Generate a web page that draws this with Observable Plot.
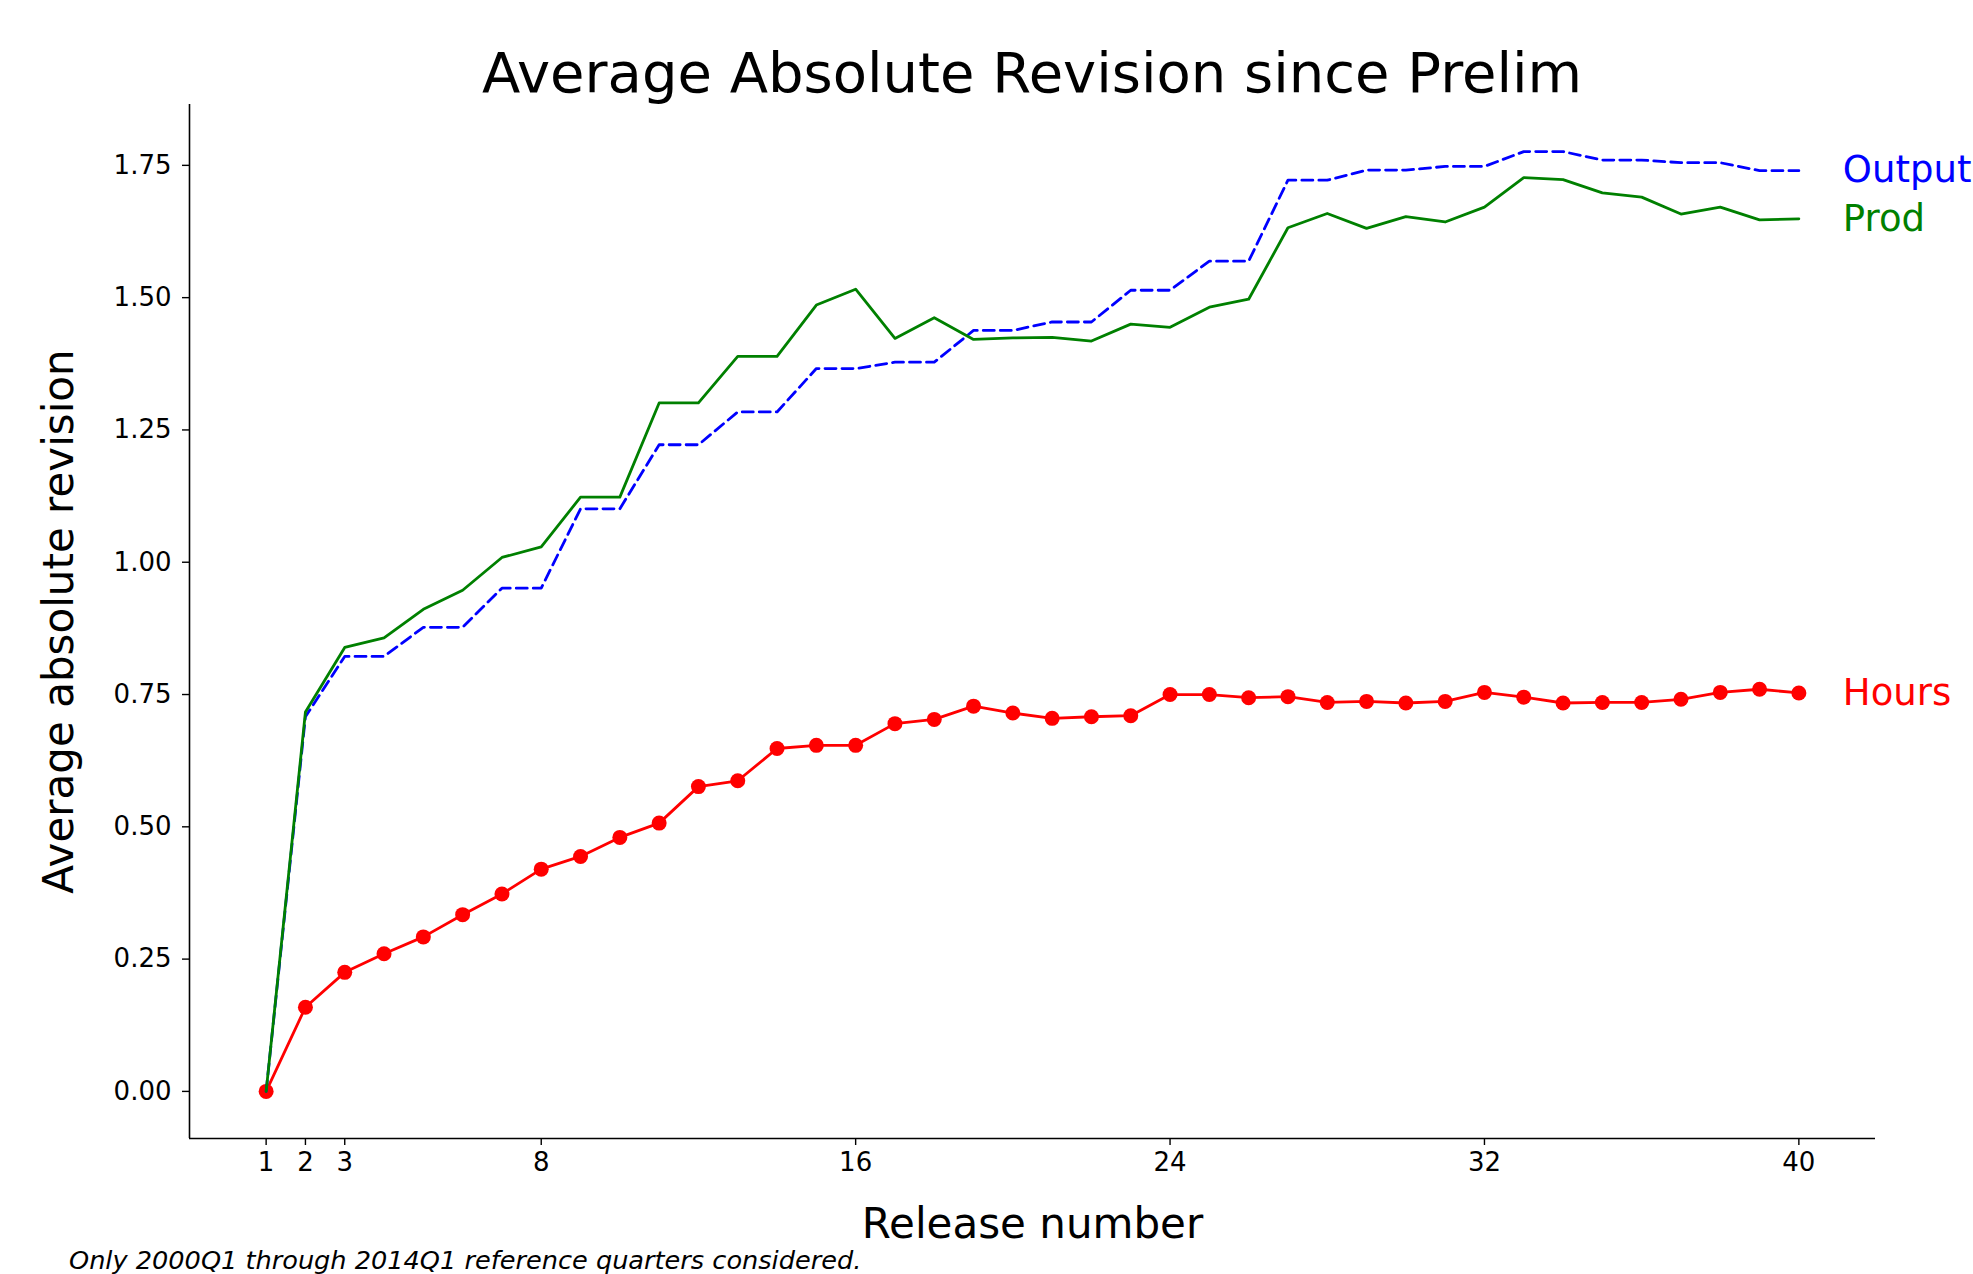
<!DOCTYPE html>
<html>
<head>
<meta charset="utf-8">
<script src="https://cdn.jsdelivr.net/npm/d3@7"></script>
<script src="https://cdn.jsdelivr.net/npm/@observablehq/plot@0.6"></script>
<style>
  html, body { margin: 0; padding: 0; background: #fff; }
  #wrap { position: relative; width: 1973px; height: 1274px; font-family: "DejaVu Sans", sans-serif; color: #000; overflow: hidden; background: #fff; }
  #title { position: absolute; top: 45px; left: 1032px; transform: translateX(-50%); font-size: 56px; line-height: 56px; white-space: nowrap; z-index: 2; }
  #chart { position: absolute; top: 94px; left: 0; z-index: 1; }
  #caption { position: absolute; top: 1248px; left: 69px; font-size: 25.6px; line-height: 25.6px; font-style: italic; white-space: nowrap; z-index: 2; }
</style>
</head>
<body>
<div id="wrap">
  <div id="title">Average Absolute Revision since Prelim</div>
  <div id="chart"></div>
  <div id="caption">Only 2000Q1 through 2014Q1 reference quarters considered.</div>
</div>
<script>
const releases = d3.range(1, 41);
const hours = [0, 0.159, 0.225, 0.260, 0.292, 0.334, 0.373, 0.420, 0.444, 0.480,
  0.507, 0.576, 0.587, 0.648, 0.654, 0.654, 0.695, 0.703, 0.728, 0.715,
  0.705, 0.708, 0.710, 0.750, 0.750, 0.744, 0.746, 0.735, 0.737, 0.734,
  0.737, 0.754, 0.745, 0.734, 0.735, 0.735, 0.741, 0.754, 0.760, 0.753];
const output = [0, 0.708, 0.822, 0.822, 0.877, 0.877, 0.951, 0.951, 1.101, 1.101,
  1.222, 1.222, 1.284, 1.284, 1.366, 1.366, 1.378, 1.378, 1.438, 1.438,
  1.454, 1.454, 1.514, 1.514, 1.569, 1.569, 1.722, 1.722, 1.741, 1.741,
  1.748, 1.748, 1.776, 1.776, 1.760, 1.760, 1.755, 1.755, 1.740, 1.740];
const prod = [0, 0.717, 0.839, 0.857, 0.911, 0.947, 1.009, 1.029, 1.123, 1.123,
  1.301, 1.301, 1.389, 1.389, 1.486, 1.516, 1.423, 1.462, 1.421, 1.424,
  1.425, 1.418, 1.450, 1.444, 1.482, 1.497, 1.632, 1.659, 1.631, 1.653,
  1.643, 1.671, 1.727, 1.723, 1.698, 1.690, 1.658, 1.671, 1.647, 1.649];
const xTicks = [1, 2, 3, 8, 16, 24, 32, 40];
const yTicks = [0, 0.25, 0.5, 0.75, 1.0, 1.25, 1.5, 1.75];
const xDomain = [-0.95, 41.95];
const yDomain = [-0.089, 1.865];
const seriesNames = ["Output", "Prod", "Hours"];
const seriesColors = ["#0000ff", "#008000", "#ff0000"];

const rows = (vals) => releases.map((r, i) => ({release: r, value: vals[i]}));
const hoursRows = rows(hours);
const outputRows = rows(output);
const prodRows = rows(prod);
const lastOf = (arr, name) => [{release: arr[arr.length - 1].release, value: arr[arr.length - 1].value, name}];

const chart = Plot.plot({
  width: 1973,
  height: 1150,
  marginLeft: 189,
  marginRight: 98,
  marginTop: 10,
  marginBottom: 106,
  style: {fontFamily: "DejaVu Sans", fontSize: "26px", color: "#000", background: "transparent", overflow: "visible"},
  x: {domain: xDomain},
  y: {domain: yDomain},
  marks: [
    Plot.axisX({ticks: xTicks, tickSize: 7, tickPadding: 7, fontSize: 26, label: null, strokeWidth: 1.4, tickFormat: d3.format("d")}),
    Plot.axisY({ticks: yTicks, tickSize: 7, tickPadding: 11, fontSize: 26, label: null, strokeWidth: 1.4, tickFormat: d3.format(".2f")}),
    Plot.ruleX([xDomain[0]], {stroke: "#000", strokeWidth: 1.6}),
    Plot.ruleY([yDomain[0]], {stroke: "#000", strokeWidth: 1.6}),
    Plot.lineY(hoursRows, {x: "release", y: "value", stroke: seriesColors[2], strokeWidth: 2.8}),
    Plot.dot(hoursRows, {x: "release", y: "value", r: 7.5, fill: seriesColors[2], stroke: "none"}),
    Plot.lineY(outputRows, {x: "release", y: "value", stroke: seriesColors[0], strokeWidth: 2.8, strokeDasharray: "11,6"}),
    Plot.lineY(prodRows, {x: "release", y: "value", stroke: seriesColors[1], strokeWidth: 2.8}),
    Plot.text(lastOf(outputRows, seriesNames[0]), {x: "release", y: "value", text: "name", fill: seriesColors[0], textAnchor: "start", dx: 44, fontSize: 37}),
    Plot.text(lastOf(prodRows, seriesNames[1]), {x: "release", y: "value", text: "name", fill: seriesColors[1], textAnchor: "start", dx: 44, fontSize: 37}),
    Plot.text(lastOf(hoursRows, seriesNames[2]), {x: "release", y: "value", text: "name", fill: seriesColors[2], textAnchor: "start", dx: 44, fontSize: 37}),
    Plot.text(["Release number"], {frameAnchor: "bottom", textAnchor: "middle", lineAnchor: "middle", dy: 86, fontSize: 42, fill: "#000"}),
    Plot.text(["Average absolute revision"], {frameAnchor: "left", textAnchor: "middle", lineAnchor: "middle", rotate: -90, dx: -130, fontSize: 42, fill: "#000"})
  ]
});
document.getElementById("chart").appendChild(chart);
</script>
</body>
</html>
